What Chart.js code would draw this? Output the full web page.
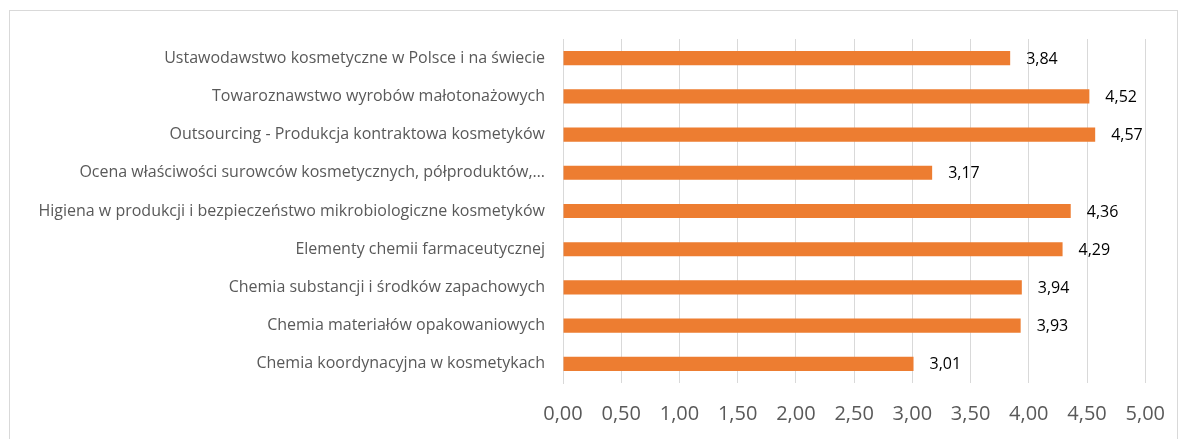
<!DOCTYPE html>
<html>
<head>
<meta charset="utf-8">
<script src="https://cdn.jsdelivr.net/npm/chart.js@4"></script>
<style>
  body { margin: 0; background: #fff; }
  #ramka { position: absolute; left: 9px; top: 10px; width: 1167px; height: 460px; border: 1px solid #d9d9d9; }
  #wykres { position: absolute; left: 0; top: 0; }
</style>
</head>
<body>
<div id="ramka"></div>
<canvas id="wykres" width="1184" height="439"></canvas>
<script>
// dane wykresu -------------------------------------------------------------
const przedmioty = [
  'Ustawodawstwo kosmetyczne w Polsce i na świecie',
  'Towaroznawstwo wyrobów małotonażowych',
  'Outsourcing - Produkcja kontraktowa kosmetyków',
  'Ocena właściwości surowców kosmetycznych, półproduktów,…',
  'Higiena w produkcji i bezpieczeństwo mikrobiologiczne kosmetyków',
  'Elementy chemii farmaceutycznej',
  'Chemia substancji i środków zapachowych',
  'Chemia materiałów opakowaniowych',
  'Chemia koordynacyjna w kosmetykach'
];
const oceny = [3.84, 4.52, 4.57, 3.17, 4.36, 4.29, 3.94, 3.93, 3.01];
const osX = { min: 0, max: 5, krok: 0.5 };

const przecinek = v => v.toFixed(2).replace('.', ',');

// etykiety z wartościami przy słupkach
const etykiety = {
  id: 'etykiety',
  afterDatasetsDraw(chart) {
    const ctx = chart.ctx;
    const meta = chart.getDatasetMeta(0);
    ctx.save();
    ctx.font = '16px "Open Sans"';
    ctx.fillStyle = '#000';
    ctx.textBaseline = 'middle';
    ctx.textAlign = 'left';
    meta.data.forEach((bar, i) => {
      ctx.fillText(przecinek(oceny[i]), bar.x + 16, bar.y + 1);
    });
    ctx.restore();
  }
};

new Chart(document.getElementById('wykres').getContext('2d'), {
  type: 'bar',
  data: {
    labels: przedmioty,
    datasets: [{
      data: oceny,
      backgroundColor: '#ED7D31',
      categoryPercentage: 1,
      barPercentage: 0.37
    }]
  },
  options: {
    indexAxis: 'y',
    responsive: false,
    animation: false,
    layout: { padding: { top: 39, right: 38, left: 0, bottom: 0 } },
    plugins: { legend: { display: false }, tooltip: { enabled: false } },
    scales: {
      x: {
        min: osX.min,
        max: osX.max,
        afterFit(scale) { scale.height = 56; },
        grid: { color: '#d9d9d9', drawTicks: false },
        border: { display: false },
        ticks: {
          stepSize: osX.krok,
          padding: 19,
          color: '#595959',
          font: { family: 'Open Sans', size: 20 },
          callback: v => przecinek(v)
        }
      },
      y: {
        afterFit(scale) { scale.width = 563; },
        grid: { display: false, drawTicks: false },
        border: { display: true, color: '#d9d9d9' },
        ticks: {
          padding: 18,
          color: '#595959',
          font: { family: 'Open Sans', size: 16 }
        }
      }
    }
  },
  plugins: [etykiety]
});
</script>
</body>
</html>
